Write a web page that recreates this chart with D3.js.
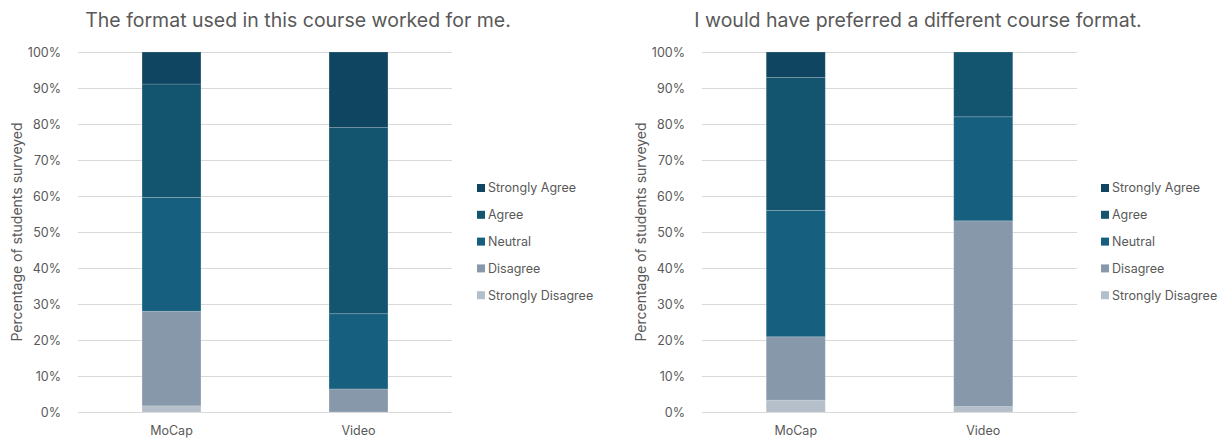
<!DOCTYPE html>
<html>
<head>
<meta charset="utf-8">
<script src="https://cdn.jsdelivr.net/npm/d3@7/dist/d3.min.js"></script>
<style>
  html, body { margin: 0; padding: 0; background: #ffffff; }
  svg { display: block; font-family: Inter, "Open Sans", sans-serif; }
</style>
</head>
<body>
<svg id="chart" width="1227" height="440"></svg>
<script>
// Survey responses, share of students (%), per course format
const categories = ["MoCap", "Video"];
const levels = ["Strongly Disagree", "Disagree", "Neutral", "Agree", "Strongly Agree"];
const levelColors = ["#b4bfca", "#8798aa", "#175f7f", "#13546f", "#0f4560"];
const tickValues = [0, 10, 20, 30, 40, 50, 60, 70, 80, 90, 100];

// "The format used in this course worked for me."
const workedTitle = "The format used in this course worked for me.";
const workedStronglyDisagree = [1.7, 0];
const workedDisagree = [26.3, 6.4];
const workedNeutral = [31.6, 20.9];
const workedAgree = [31.5, 51.7];
const workedStronglyAgree = [8.9, 21.0];

// "I would have preferred a different course format."
const preferredTitle = "I would have preferred a different course format.";
const preferredStronglyDisagree = [3.3, 1.5];
const preferredDisagree = [17.6, 51.6];
const preferredNeutral = [35.1, 28.9];
const preferredAgree = [36.9, 18.0];
const preferredStronglyAgree = [7.1, 0];

const yAxisTitle = "Percentage of students surveyed";

const svg = d3.select("#chart");
const textColor = "#595959";

function drawPanel(opts) {
  const { title, series, left, right, top, bottom, titleX, axisTitleX, legendX } = opts;
  const g = svg.append("g");

  const rows = categories.map((c, i) => {
    const r = { category: c };
    levels.forEach((lv, k) => { r[lv] = series[k][i]; });
    return r;
  });
  const stacked = d3.stack().keys(levels)(rows);

  const x = d3.scaleBand().domain(categories).range([left, right])
    .paddingInner(0.685).paddingOuter(0.3425);
  const y = d3.scaleLinear().domain([0, 100]).range([bottom, top]);

  // gridlines
  const grid = g.append("g").attr("transform", `translate(${left},0)`)
    .call(d3.axisLeft(y).tickValues(tickValues).tickSize(-(right - left)).tickFormat(""));
  grid.select(".domain").remove();
  grid.selectAll("line").attr("stroke", "#d9d9d9").attr("stroke-width", 1);

  // tick labels
  const yAxis = g.append("g").attr("transform", `translate(${left - 14},0)`)
    .call(d3.axisLeft(y).tickValues(tickValues).tickSize(0).tickFormat(d => d + "%"));
  yAxis.select(".domain").remove();
  yAxis.selectAll("text").attr("fill", textColor).attr("font-size", 12.5)
    .attr("font-family", "Inter, 'Open Sans', sans-serif");

  // stacked bars
  g.append("g").selectAll("g").data(stacked).join("g")
    .attr("fill", (d, k) => levelColors[k])
    .selectAll("rect").data(d => d).join("rect")
    .attr("x", d => x(d.data.category))
    .attr("width", x.bandwidth())
    .attr("y", d => y(d[1]))
    .attr("height", d => y(d[0]) - y(d[1]))
    .attr("stroke", "rgba(255,255,255,0.22)")
    .attr("stroke-width", 0.8);

  // category labels
  const xAxis = g.append("g").attr("transform", `translate(0,${bottom + 11})`)
    .call(d3.axisBottom(x).tickSize(0));
  xAxis.select(".domain").remove();
  xAxis.selectAll("text").attr("fill", textColor).attr("font-size", 12.5)
    .attr("font-family", "Inter, 'Open Sans', sans-serif");

  // title
  g.append("text").attr("x", titleX).attr("y", 27)
    .attr("text-anchor", "middle").attr("fill", textColor)
    .attr("font-size", 19.5).text(title);

  // y axis title
  g.append("text")
    .attr("transform", `translate(${axisTitleX},${(top + bottom) / 2}) rotate(-90)`)
    .attr("text-anchor", "middle").attr("fill", textColor)
    .attr("font-size", 14).text(yAxisTitle);

  // legend (top item = last stack level)
  const order = levels.map((lv, k) => k).reverse();
  const leg = g.append("g");
  order.forEach((k, i) => {
    const yy = 188 + i * 26.8;
    leg.append("rect").attr("x", legendX).attr("y", yy - 4).attr("width", 8).attr("height", 8)
      .attr("fill", levelColors[k]);
    leg.append("text").attr("x", legendX + 11).attr("y", yy).attr("dy", "0.35em")
      .attr("fill", textColor).attr("font-size", 12.5).text(levels[k]);
  });
}

drawPanel({
  title: workedTitle,
  series: [workedStronglyDisagree, workedDisagree, workedNeutral, workedAgree, workedStronglyAgree],
  left: 78, right: 452, top: 52, bottom: 412,
  titleX: 298, axisTitleX: 22, legendX: 477
});

drawPanel({
  title: preferredTitle,
  series: [preferredStronglyDisagree, preferredDisagree, preferredNeutral, preferredAgree, preferredStronglyAgree],
  left: 702, right: 1077, top: 52, bottom: 412,
  titleX: 918, axisTitleX: 646, legendX: 1101
});
</script>
</body>
</html>
